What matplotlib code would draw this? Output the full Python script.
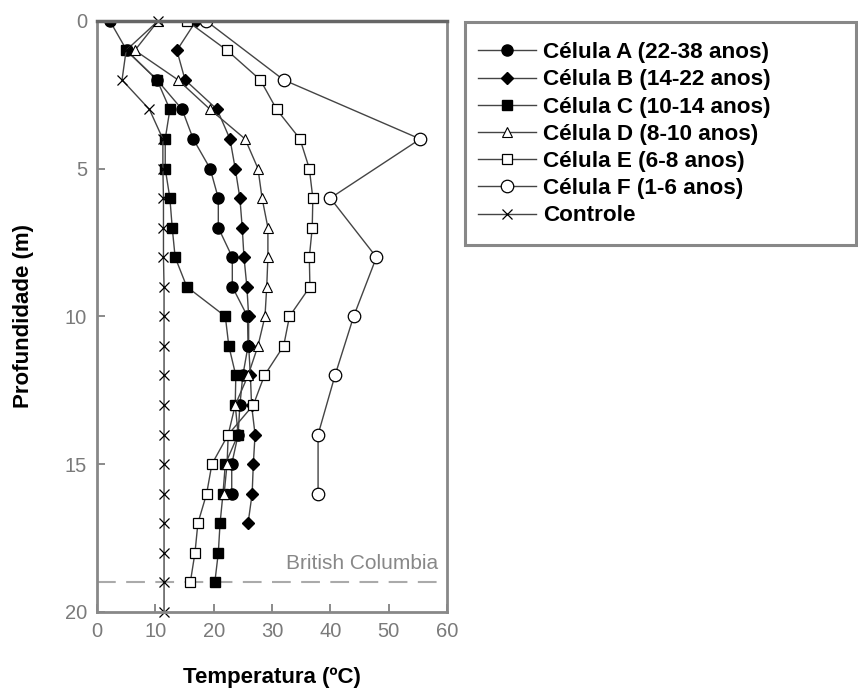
import matplotlib.pyplot as plt
from matplotlib.patches import Rectangle

# profundidade (m) e temperatura (ºC) por célula
prof_a = list(range(0, 17))
temp_a = [2.2, 5.1, 10.3, 14.6, 16.5, 19.4, 20.8, 20.8, 23.2, 23.2,
          25.8, 25.9, 25.0, 24.5, 24.2, 23.1, 23.1]
prof_b = list(range(0, 18))
temp_b = [17.0, 13.7, 15.1, 20.6, 22.8, 23.7, 24.5, 24.9, 25.2, 25.7,
          26.0, 26.0, 26.3, 26.5, 27.1, 26.8, 26.6, 25.9]
prof_c = list(range(1, 20))
temp_c = [5.0, 10.3, 12.5, 11.7, 11.7, 12.5, 12.9, 13.4, 15.4,
          22.0, 22.6, 23.8, 23.7, 24.2, 22.0, 21.6, 21.1, 20.8, 20.2]
prof_d = list(range(0, 17))
temp_d = [10.5, 6.5, 13.9, 19.4, 25.4, 27.6, 28.3, 29.3, 29.3, 29.1,
          28.8, 27.6, 25.9, 23.7, 22.5, 22.3, 21.8]
prof_e = list(range(0, 20))
temp_e = [15.4, 22.3, 28.0, 30.8, 34.8, 36.4, 37.0, 36.9, 36.4, 36.5,
          33.0, 32.0, 28.7, 26.8, 22.5, 19.7, 18.8, 17.3, 16.8, 16.0]
prof_f = [0, 2, 4, 6, 8, 10, 12, 14, 16]
temp_f = [18.7, 32.0, 55.4, 40.0, 47.9, 44.0, 40.8, 37.9, 37.9]
prof_ctrl = list(range(0, 21))
temp_ctrl = [10.5, 5.0, 4.3, 9.0, 11.3, 11.3, 11.4, 11.4, 11.4, 11.5,
             11.5, 11.5, 11.5, 11.5, 11.5, 11.5, 11.5, 11.5, 11.5, 11.5, 11.5]

rotulos = ['Célula A (22-38 anos)', 'Célula B (14-22 anos)', 'Célula C (10-14 anos)',
           'Célula D (8-10 anos)', 'Célula E (6-8 anos)', 'Célula F (1-6 anos)', 'Controle']

plt.rcParams['font.family'] = ['Liberation Sans', 'DejaVu Sans']

fig = plt.figure(figsize=(8.58, 6.93), dpi=100)
ax = fig.add_axes([0.113, 0.117, 0.408, 0.853])

linha = dict(color='#444444', lw=1.0, mec='black')
ax.plot(temp_a, prof_a, marker='o', ms=8, mfc='black', label=rotulos[0], **linha)
ax.plot(temp_b, prof_b, marker='D', ms=6.5, mfc='black', label=rotulos[1], **linha)
ax.plot(temp_c, prof_c, marker='s', ms=7.5, mfc='black', label=rotulos[2], **linha)
ax.plot(temp_d, prof_d, marker='^', ms=6.5, mfc='white', mew=0.8, label=rotulos[3], **linha)
ax.plot(temp_e, prof_e, marker='s', ms=7.5, mfc='white', mew=0.9, label=rotulos[4], **linha)
ax.plot(temp_f, prof_f, marker='o', ms=9, mfc='white', mew=0.9, label=rotulos[5], **linha)
ax.plot(temp_ctrl, prof_ctrl, marker='x', ms=6.5, mew=0.9, label=rotulos[6], clip_on=False, **linha)

ax.axhline(19, color='#aaaaaa', lw=1.5, ls=(0, (9, 5)), zorder=0)
ax.text(58.5, 18.7, 'British Columbia', ha='right', va='bottom', color='#888888', fontsize=15)

ax.set_xlim(0, 60)
ax.set_ylim(20, 0)
ax.set_xticks(range(0, 61, 10))
ax.set_yticks(range(0, 21, 5))
ax.tick_params(direction='in', length=6, color='#777777', labelcolor='#7a7a7a',
               labelsize=14.5, width=1.2, pad=7)
for s in ax.spines.values():
    s.set_color('#888888')
    s.set_linewidth(2)
ax.spines['top'].set_color('#666666')
ax.spines['top'].set_linewidth(2.5)

ax.set_xlabel('Temperatura (ºC)', fontsize=16, fontweight='bold', labelpad=19)
ax.set_ylabel('Profundidade (m)', fontsize=16, fontweight='bold', labelpad=22)

# legenda sem moldura + caixa desenhada à parte
leg = fig.legend(loc='upper left', bbox_to_anchor=(0.557, 0.939),
                 prop={'weight': 'bold', 'size': 16.2}, handlelength=2.6,
                 handletextpad=0.3, labelspacing=0.275, frameon=False,
                 borderaxespad=0, borderpad=0)
fig.add_artist(Rectangle((465 / 858, 1 - 245 / 693), 391 / 858, 223 / 693,
                         transform=fig.transFigure, fill=False,
                         edgecolor='#888888', lw=2.2))

fig.savefig('out.png', dpi=100)
